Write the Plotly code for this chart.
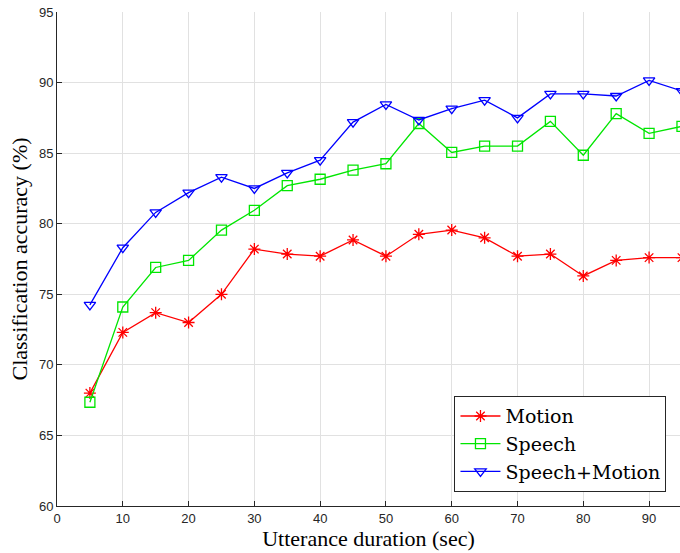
import plotly.graph_objects as go

durations = [5, 10, 15, 20, 25, 30, 35, 40, 45, 50, 55, 60, 65, 70, 75, 80, 85, 90, 95]
motion = [68.0, 72.3, 73.7, 73.0, 75.0, 78.2, 77.85, 77.7, 78.85, 77.7, 79.25, 79.55, 79.0, 77.7, 77.85, 76.3, 77.4, 77.6, 77.6]
speech = [67.35, 74.1, 76.9, 77.4, 79.55, 80.95, 82.7, 83.15, 83.8, 84.25, 87.1, 85.05, 85.5, 85.5, 87.25, 84.85, 87.8, 86.4, 86.9]
speech_motion = [74.25, 78.3, 80.8, 82.2, 83.3, 82.5, 83.6, 84.5, 87.2, 88.45, 87.35, 88.15, 88.75, 87.5, 89.2, 89.2, 89.05, 90.15, 89.4]

serif = "Liberation Serif"
sans = "Liberation Sans"

fig = go.Figure()
series = [
    ("Motion", motion, "rgb(255,0,0)", "asterisk-open"),
    ("Speech", speech, "rgb(0,230,0)", "square-open"),
    ("Speech+Motion", speech_motion, "rgb(0,0,255)", "triangle-down-open"),
]
for name, vals, col, sym in series:
    fig.add_trace(go.Scatter(
        x=durations, y=vals, name=name, mode="lines+markers",
        line=dict(color=col, width=1.3),
        marker=dict(symbol=sym, size=10, color=col, line=dict(color=col, width=1.3)),
    ))

axis_common = dict(
    showgrid=True, gridcolor="rgb(225,225,225)", gridwidth=1,
    showline=True, linecolor="rgb(38,38,38)", linewidth=1,
    ticks="inside", ticklen=5, tickcolor="rgb(38,38,38)",
    tickfont=dict(family=sans, size=13, color="rgb(38,38,38)"),
    zeroline=False, mirror=False,
)

fig.update_layout(
    width=680, height=553,
    margin=dict(l=57, r=0, t=12, b=47),
    paper_bgcolor="white", plot_bgcolor="white",
    xaxis=dict(range=[0, 94.7], tickvals=list(range(0, 100, 10)),
               title=dict(text="Utterance duration (sec)", font=dict(family=serif, size=22, color="black"), standoff=5),
               **axis_common),
    yaxis=dict(range=[60, 95], tickvals=list(range(60, 100, 5)),
               title=dict(text="Classification accuracy (%)", font=dict(family=serif, size=22, color="black"), standoff=5),
               **axis_common),
    legend=dict(x=0.638, y=0.028, xanchor="left", yanchor="bottom",
                bgcolor="white", bordercolor="rgb(38,38,38)", borderwidth=1,
                font=dict(family="DejaVu Serif", size=19, color="black"),
                tracegroupgap=0, itemwidth=40),
    showlegend=True,
)

fig.write_html("out.html")
